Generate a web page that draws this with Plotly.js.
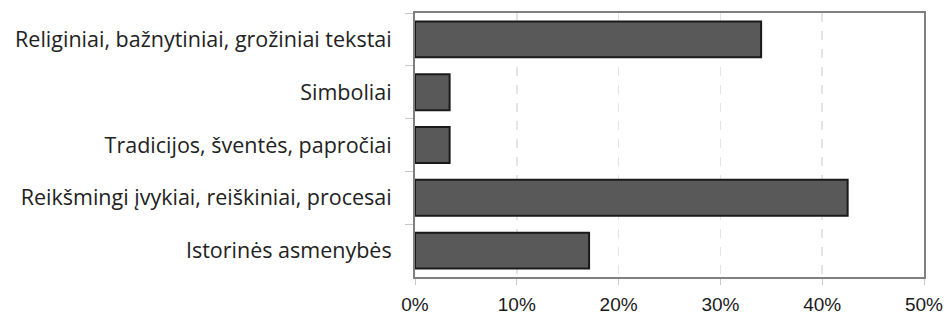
<!DOCTYPE html>
<html>
<head>
<meta charset="utf-8">
<script src="https://cdn.plot.ly/plotly-3.0.1.min.js"></script>
<style>html,body{margin:0;padding:0;background:#fff;}#chart{width:946px;height:316px;}</style>
</head>
<body>
<div id="chart"></div>
<script>
const categories = [
  "Religiniai, bažnytiniai, grožiniai tekstai",
  "Simboliai",
  "Tradicijos, šventės, papročiai",
  "Reikšmingi įvykiai, reiškiniai, procesai",
  "Istorinės asmenybės"
];
const values = [34.0, 3.4, 3.4, 42.5, 17.1];
const xTickValues = [0, 10, 20, 30, 40, 50];
const xTickLabels = ["0%", "10%", "20%", "30%", "40%", "50%"];

Plotly.newPlot("chart", [{
  type: "bar",
  orientation: "h",
  x: values,
  y: categories,
  width: 0.68,
  marker: {color: "#595959", line: {color: "#1a1a1a", width: 2}},
  hoverinfo: "none"
}], {
  width: 946, height: 316,
  margin: {l: 415, r: 22, t: 13, b: 39},
  paper_bgcolor: "#fff", plot_bgcolor: "#fff",
  showlegend: false,
  xaxis: {
    range: [0, 50],
    tickvals: xTickValues, ticktext: xTickLabels,
    showgrid: true, gridcolor: "#e4e4e4", gridwidth: 1.5, griddash: "dash",
    zeroline: false,
    showline: true, linecolor: "#808080", linewidth: 2, mirror: true,
    ticks: "outside", ticklen: 6, tickcolor: "#c8c8c8", tickwidth: 1,
    ticklabelstandoff: 3,
    tickfont: {family: "Liberation Sans, Arial, sans-serif", size: 19, color: "#1a1a1a"}
  },
  yaxis: {
    autorange: "reversed",
    showgrid: false, zeroline: false,
    showline: true, linecolor: "#808080", linewidth: 2, mirror: true,
    ticks: "outside", ticklen: 8, tickcolor: "#c8c8c8", tickwidth: 1,
    tickson: "boundaries",
    ticklabelstandoff: 17,
    tickfont: {family: "Open Sans, Noto Sans, sans-serif", size: 21.5, color: "#222"}
  }
}, {displayModeBar: false, staticPlot: true});
</script>
</body>
</html>
